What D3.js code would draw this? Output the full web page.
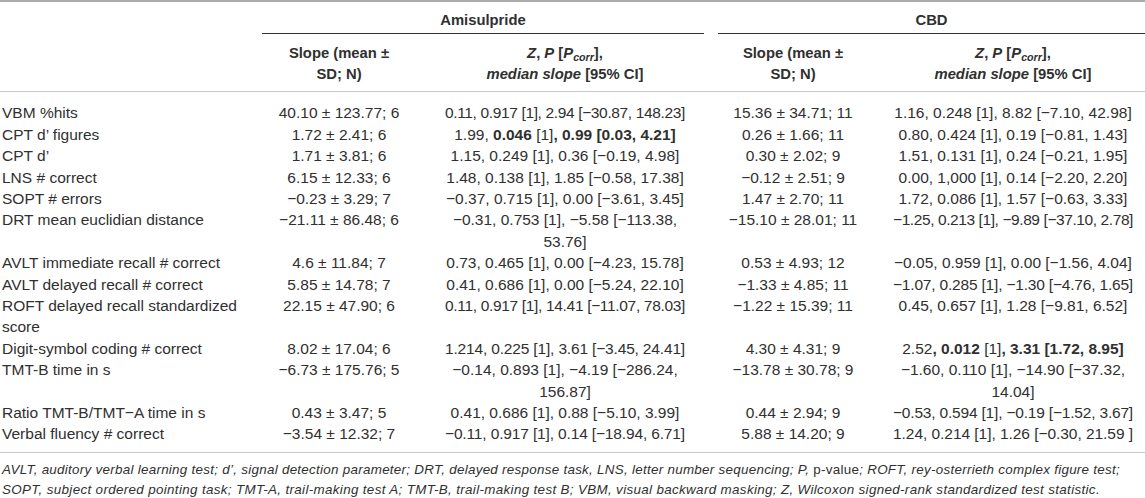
<!DOCTYPE html>
<html><head><meta charset="utf-8">
<script src="https://cdn.jsdelivr.net/npm/d3@7"></script>
<style>
html,body{margin:0;padding:0;background:#fff;}
svg{display:block;font-family:"Liberation Sans",Arial,Helvetica,sans-serif;}
</style></head><body>
<svg id="chart" width="1145" height="498"></svg>
<script>
// ---------- data ----------
const groups = ["Amisulpride", "CBD"];
const slopeHeader = ["Slope (mean ±", "SD; N)"];
const measures = [
  "VBM %hits",
  "CPT d’ figures",
  "CPT d’",
  "LNS # correct",
  "SOPT # errors",
  "DRT mean euclidian distance",
  "AVLT immediate recall # correct",
  "AVLT delayed recall # correct",
  "ROFT delayed recall standardized\nscore",
  "Digit-symbol coding # correct",
  "TMT-B time in s",
  "Ratio TMT-B/TMT\u2212A time in s",
  "Verbal fluency # correct"
];
const amiSlope = [
  "40.10 ± 123.77; 6", "1.72 ± 2.41; 6", "1.71 ± 3.81; 6", "6.15 ± 12.33; 6",
  "\u22120.23 ± 3.29; 7", "\u221221.11 ± 86.48; 6", "4.6 ± 11.84; 7", "5.85 ± 14.78; 7",
  "22.15 ± 47.90; 6", "8.02 ± 17.04; 6", "\u22126.73 ± 175.76; 5", "0.43 ± 3.47; 5",
  "\u22123.54 ± 12.32; 7"
];
const amiTest = [
  "0.11, 0.917 [1], 2.94 [\u221230.87, 148.23]",
  "1.99, **0.046** [1]**, 0.99 [0.03, 4.21]**",
  "1.15, 0.249 [1], 0.36 [\u22120.19, 4.98]",
  "1.48, 0.138 [1], 1.85 [\u22120.58, 17.38]",
  "\u22120.37, 0.715 [1], 0.00 [\u22123.61, 3.45]",
  "\u22120.31, 0.753 [1], \u22125.58 [\u2212113.38,\n53.76]",
  "0.73, 0.465 [1], 0.00 [\u22124.23, 15.78]",
  "0.41, 0.686 [1], 0.00 [\u22125.24, 22.10]",
  "0.11, 0.917 [1], 14.41 [\u221211.07, 78.03]",
  "1.214, 0.225 [1], 3.61 [\u22123.45, 24.41]",
  "\u22120.14, 0.893 [1], \u22124.19 [\u2212286.24,\n156.87]",
  "0.41, 0.686 [1], 0.88 [\u22125.10, 3.99]",
  "\u22120.11, 0.917 [1], 0.14 [\u221218.94, 6.71]"
];
const cbdSlope = [
  "15.36 ± 34.71; 11", "0.26 ± 1.66; 11", "0.30 ± 2.02; 9", "\u22120.12 ± 2.51; 9",
  "1.47 ± 2.70; 11", "\u221215.10 ± 28.01; 11", "0.53 ± 4.93; 12", "\u22121.33 ± 4.85; 11",
  "\u22121.22 ± 15.39; 11", "4.30 ± 4.31; 9", "\u221213.78 ± 30.78; 9", "0.44 ± 2.94; 9",
  "5.88 ± 14.20; 9"
];
const cbdTest = [
  "1.16, 0.248 [1], 8.82 [\u22127.10, 42.98]",
  "0.80, 0.424 [1], 0.19 [\u22120.81, 1.43]",
  "1.51, 0.131 [1], 0.24 [\u22120.21, 1.95]",
  "0.00, 1,000 [1], 0.14 [\u22122.20, 2.20]",
  "1.72, 0.086 [1], 1.57 [\u22120.63, 3.33]",
  "\u22121.25, 0.213 [1], \u22129.89 [\u221237.10, 2.78]",
  "\u22120.05, 0.959 [1], 0.00 [\u22121.56, 4.04]",
  "\u22121.07, 0.285 [1], \u22121.30 [\u22124.76, 1.65]",
  "0.45, 0.657 [1], 1.28 [\u22129.81, 6.52]",
  "2.52**, 0.012** [1]**, 3.31 [1.72, 8.95]**",
  "\u22121.60, 0.110 [1], \u221214.90 [\u221237.32,\n14.04]",
  "\u22120.53, 0.594 [1], \u22120.19 [\u22121.52, 3.67]",
  "1.24, 0.214 [1], 1.26 [\u22120.30, 21.59 ]"
];
const footnotes = [
  "AVLT, auditory verbal learning test; d’, signal detection parameter; DRT, delayed response task, LNS, letter number sequencing; P, {p-value}; ROFT, rey-osterrieth complex figure test;",
  "SOPT, subject ordered pointing task; TMT-A, trail-making test A; TMT-B, trail-making test B; VBM, visual backward masking; Z, Wilcoxon signed-rank standardized test statistic."
];

// ---------- layout ----------
const svg = d3.select("#chart");
const W = 1145;
const textColor = "#303030";
const dataSize = 15.5, headSize = 14.8;
const maxCellW = 240;
const footWidths = [1118, 1098];

const colKeys = ["label", "amiSlope", "amiTest", "cbdSlope", "cbdTest"];
const colX = d3.scaleOrdinal().domain(colKeys).range([2, 339, 565, 793, 1013]);
const groupSpan = d3.scaleOrdinal().domain(groups).range([[262, 704], [718, 1145]]);

const rows = measures.map((m, i) => {
  const cells = { label: m, amiSlope: amiSlope[i], amiTest: amiTest[i], cbdSlope: cbdSlope[i], cbdTest: cbdTest[i] };
  const n = d3.max(colKeys, k => cells[k].split("\n").length);
  return { cells, n };
});
let acc = 0;
rows.forEach(r => { r.start = acc; acc += r.n; });
const nLines = acc;
const y = d3.scaleLinear().domain([0, nLines - 1]).range([113, 434]);

function addRich(textSel, str) {
  str.split("**").forEach((seg, j) => {
    if (!seg) return;
    textSel.append("tspan").attr("font-weight", j % 2 ? "bold" : null).text(seg);
  });
}

// rules
const rules = [
  { y: 1, c: "#aaaaaa", w: 2 },
  { y: 91.5, c: "#c8c8c8", w: 1.2 },
  { y: 452.5, c: "#c8c8c8", w: 1.2 }
];
svg.selectAll("line.rule").data(rules).join("line").attr("class", "rule")
  .attr("x1", 0).attr("x2", W).attr("y1", d => d.y).attr("y2", d => d.y)
  .attr("stroke", d => d.c).attr("stroke-width", d => d.w);

// group headers
svg.selectAll("line.grp").data(groups).join("line").attr("class", "grp")
  .attr("x1", d => groupSpan(d)[0]).attr("x2", d => groupSpan(d)[1])
  .attr("y1", 33.5).attr("y2", 33.5).attr("stroke", "#333").attr("stroke-width", 1.2);
svg.selectAll("text.grp").data(groups).join("text").attr("class", "grp")
  .attr("x", d => (groupSpan(d)[0] + groupSpan(d)[1]) / 2).attr("y", 20).attr("dy", "0.35em")
  .attr("text-anchor", "middle").attr("font-weight", "bold").attr("font-size", headSize)
  .attr("fill", textColor).text(d => d);

// sub headers
const hy = d3.scaleLinear().domain([0, 1]).range([53, 74]);
["amiSlope", "cbdSlope"].forEach(k => {
  slopeHeader.forEach((t, i) => {
    svg.append("text").attr("x", colX(k)).attr("y", hy(i)).attr("dy", "0.35em")
      .attr("text-anchor", "middle").attr("font-weight", "bold").attr("font-size", headSize)
      .attr("fill", textColor).text(t);
  });
});
["amiTest", "cbdTest"].forEach(k => {
  const t1 = svg.append("text").attr("x", colX(k)).attr("y", hy(0)).attr("dy", "0.35em")
    .attr("text-anchor", "middle").attr("font-weight", "bold").attr("font-size", headSize).attr("fill", textColor);
  t1.append("tspan").attr("font-style", "italic").text("Z");
  t1.append("tspan").text(", ");
  t1.append("tspan").attr("font-style", "italic").text("P");
  t1.append("tspan").text(" [");
  t1.append("tspan").attr("font-style", "italic").text("P");
  t1.append("tspan").attr("font-style", "italic").attr("font-size", headSize * 0.72).attr("dy", "0.25em").text("corr");
  t1.append("tspan").attr("dy", "-0.18em").text("],");
  const t2 = svg.append("text").attr("x", colX(k)).attr("y", hy(1)).attr("dy", "0.35em")
    .attr("text-anchor", "middle").attr("font-weight", "bold").attr("font-size", headSize).attr("fill", textColor);
  t2.append("tspan").attr("font-style", "italic").text("median slope");
  t2.append("tspan").text(" [95% CI]");
});

// body
const rowG = svg.selectAll("g.row").data(rows).join("g").attr("class", "row");
colKeys.forEach(k => {
  rowG.each(function (r) {
    const g = d3.select(this);
    r.cells[k].split("\n").forEach((ln, li) => {
      const t = g.append("text").attr("y", y(r.start + li)).attr("dy", "0.35em")
        .attr("font-size", dataSize).attr("fill", textColor)
        .attr("x", colX(k)).attr("text-anchor", k === "label" ? "start" : "middle");
      addRich(t, ln);
      if (k !== "label") {
        const len = t.node().getComputedTextLength();
        if (len > maxCellW) {
          // tighten letter spacing of an over-long line so it stays inside its cell
          const ls = (maxCellW - len) / ln.replace(/\*/g, "").length;
          t.attr("letter-spacing", ls.toFixed(3));
        }
      }
    });
  });
});

// footnotes
const fy = d3.scaleLinear().domain([0, 1]).range([469.5, 489]);
footnotes.forEach((f, i) => {
  const t = svg.append("text").attr("x", 2).attr("y", fy(i)).attr("dy", "0.35em")
    .attr("font-size", 13.4).attr("font-style", "italic").attr("fill", textColor);
  f.split(/[{}]/).forEach((seg, j) => {
    if (seg) t.append("tspan").attr("font-style", j % 2 ? "normal" : null).text(seg);
  });
  const len = t.node().getComputedTextLength();
  const ls = (footWidths[i] - len) / f.replace(/[{}]/g, "").length;
  t.attr("letter-spacing", ls.toFixed(3));
});
</script>
</body></html>
